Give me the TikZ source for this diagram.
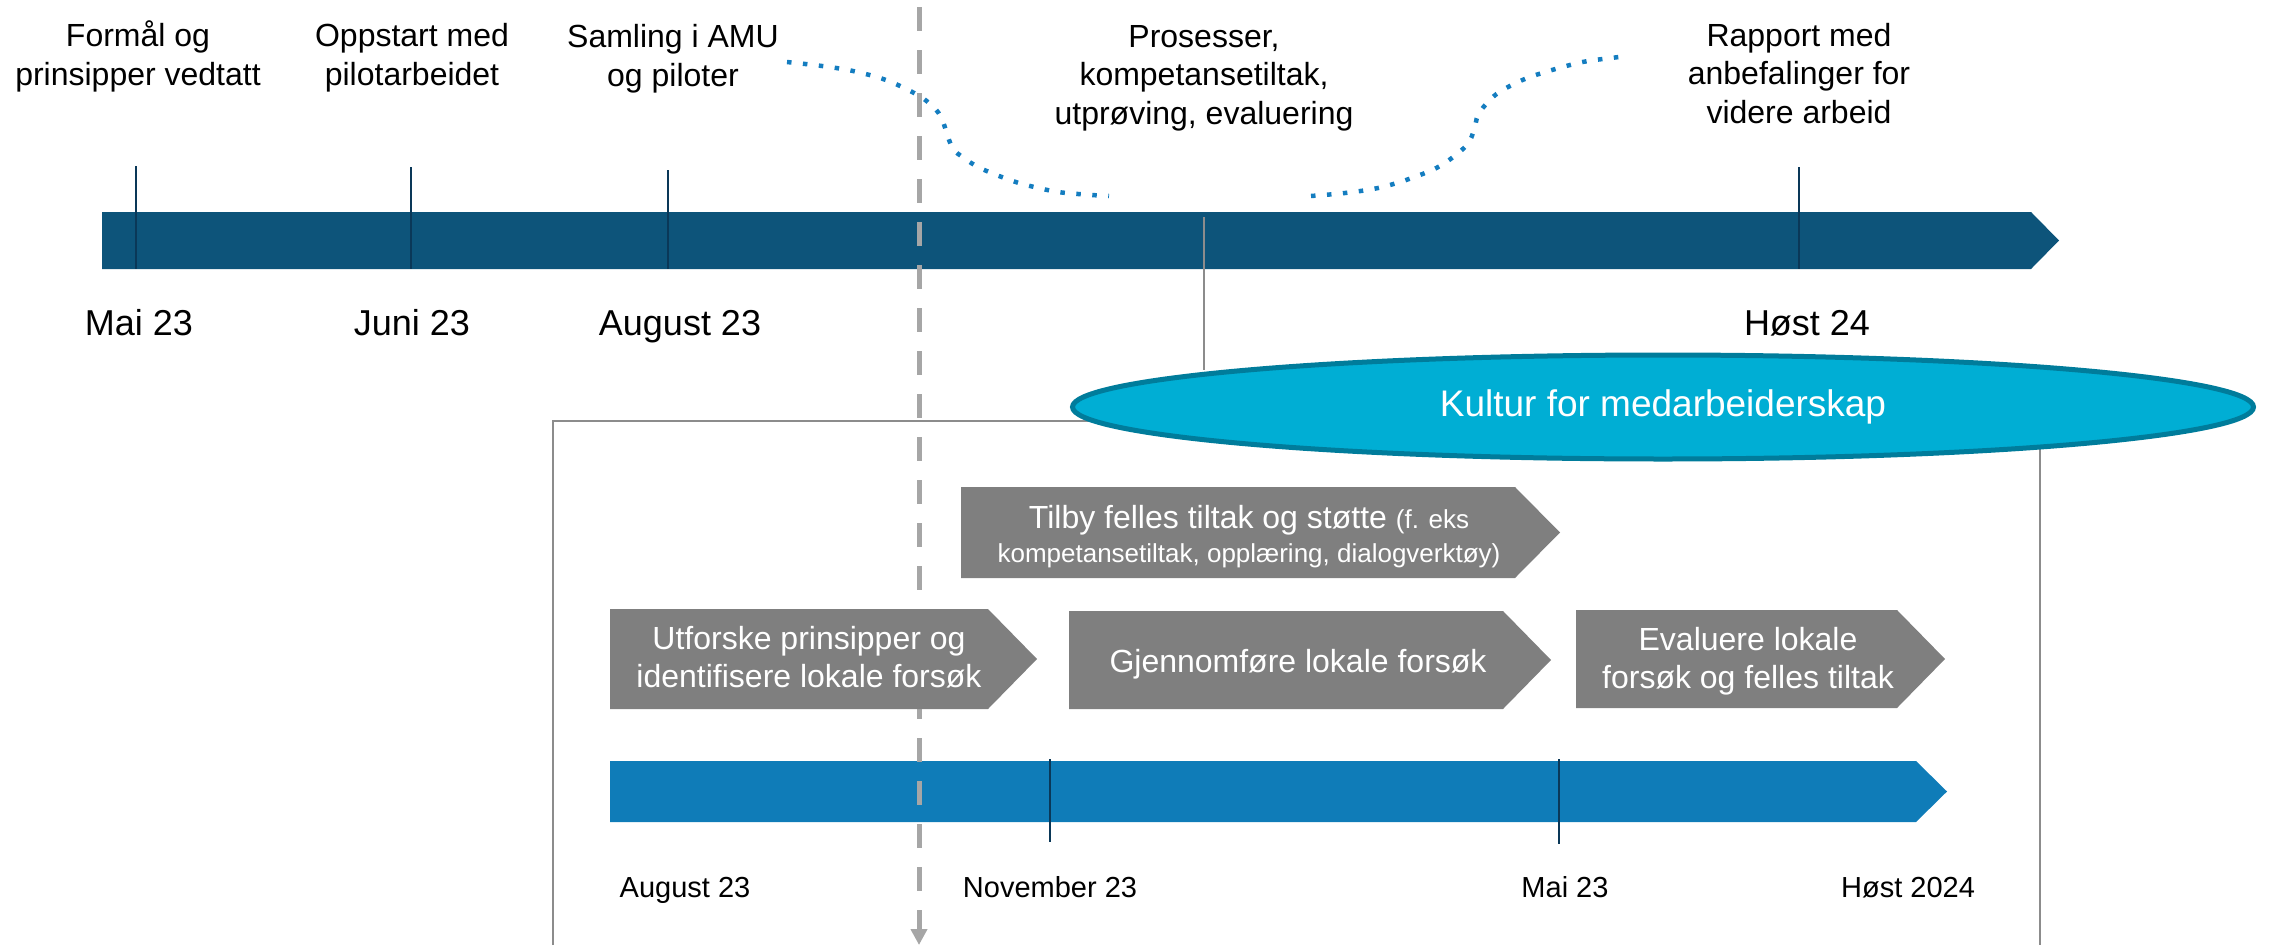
\documentclass[tikz,border=0pt]{standalone}
\usepackage{fontspec}
\setmainfont{Liberation Sans}
\usetikzlibrary{shapes.geometric,arrows.meta}
\definecolor{topbar}{RGB}{13,84,122}
\definecolor{botbar}{RGB}{15,124,184}
\definecolor{tick}{RGB}{10,56,88}
\definecolor{chev}{RGB}{127,127,127}
\definecolor{ellfill}{RGB}{0,174,212}
\definecolor{elldraw}{RGB}{0,124,155}
\definecolor{dotblue}{RGB}{20,125,192}
\definecolor{dashgray}{RGB}{166,166,166}
\definecolor{framegray}{RGB}{140,140,140}
\begin{document}
\begin{tikzpicture}[x=1pt,y=-1pt,
  lbl/.style={font=\fontsize{32}{38.4}\selectfont, align=center, inner sep=0, anchor=base},
  bigdate/.style={font=\fontsize{36}{43}\selectfont, inner sep=0, anchor=base},
  smalldate/.style={font=\fontsize{29}{35}\selectfont, inner sep=0, anchor=base},
  chtxt/.style={font=\fontsize{32}{37.5}\selectfont, align=center, text=white, inner sep=0, anchor=base},
  tickline/.style={draw=tick, line width=2pt},
  frameline/.style={draw=framegray, line width=2pt},
  dotline/.style={draw=dotblue, line width=4.5pt, dash pattern=on 4.5pt off 11.5pt},
  chevshape/.style={fill=chev}
]
\useasboundingbox (0,0) rectangle (2270,945);

% frame lines
\draw[frameline] (553,945) -- (553,421) -- (1150,421);
\draw[frameline] (2040,440) -- (2040,945);

% top bar
\fill[topbar] (102,212) -- (2031,212) -- (2059,240.5) -- (2031,269) -- (102,269) -- cycle;
\coordinate (t1a) at (136,166); \coordinate (t1b) at (136,269);
\coordinate (t2a) at (411,167); \coordinate (t2b) at (411,269);
\coordinate (t3a) at (668,170); \coordinate (t3b) at (668,269);
\coordinate (t4a) at (1799,167); \coordinate (t4b) at (1799,269);
\draw[tickline] (t1a) -- (t1b);
\draw[tickline] (t2a) -- (t2b);
\draw[tickline] (t3a) -- (t3b);
\draw[tickline] (t4a) -- (t4b);
\coordinate (gt) at (1204,217);
\coordinate (gb) at (1204,370);
\draw[draw=framegray, line width=2pt] (gt) -- (gb);

% bottom bar
\fill[botbar] (610,761) -- (1916,761) -- (1947,791.5) -- (1916,822) -- (610,822) -- cycle;
\coordinate (b1a) at (1050,759); \coordinate (b1b) at (1050,842);
\coordinate (b2a) at (1559,759); \coordinate (b2b) at (1559,844);
\draw[tickline] (b1a) -- (b1b);
\draw[tickline] (b2a) -- (b2b);

% dashed today line
\coordinate (dtop) at (919,7);
\coordinate (dbot) at (919,945);
\draw[draw=dashgray, line width=5pt, dash pattern=on 24pt off 19pt,
  -{Triangle[width=16pt,length=16pt]}] (dtop) -- (dbot);

% chevrons
\fill[chevshape] (961,487) -- (1515,487) -- (1560,532.5) -- (1515,578) -- (961,578) -- cycle;
\fill[chevshape] (610,609) -- (988,609) -- (1037,659) -- (988,709) -- (610,709) -- cycle;
\fill[chevshape] (1069,611) -- (1503,611) -- (1551,660) -- (1503,709) -- (1069,709) -- cycle;
\fill[chevshape] (1576,610) -- (1897,610) -- (1945,659) -- (1897,708) -- (1576,708) -- cycle;

\node[chtxt] (c1) at (1249,562) {Tilby felles tiltak og støtte {\fontsize{26}{31}\selectfont (f. eks}\\[-4pt]{\fontsize{26}{31}\selectfont kompetansetiltak, opplæring, dialogverktøy)}};
\node[chtxt] (c2) at (809,687) {Utforske prinsipper og\\identifisere lokale forsøk};
\node[chtxt] (c3) at (1298,672) {Gjennomføre lokale forsøk};
\node[chtxt] (c4) at (1748,688) {Evaluere lokale\\forsøk og felles tiltak};

% ellipse
\node[ellipse, fill=ellfill, draw=elldraw, line width=5pt, minimum width=1181pt, minimum height=104pt,
  inner sep=0, text=white, font=\fontsize{37}{44}\selectfont] (kultur) at (1663,407) {Kultur for medarbeiderskap};

% dotted curves
\draw[dotline] plot[smooth, tension=0.55] coordinates {(787,62) (822,66) (853,71) (886,80) (916,94) (930,104) (941,117) (952,147) (964,158) (978,167) (994,174) (1010,180) (1026,185) (1058,192) (1092,195) (1109,196)};
\draw[dotline] plot[smooth, tension=0.55] coordinates {(1311,196) (1345,193) (1378,188) (1409,179) (1440,166) (1466,146) (1474,130) (1478,115) (1488,102) (1501,91) (1530,77) (1578,63) (1611,58) (1629,56)};

% top labels (anchor = baseline of last line)
\node[lbl] (l1) at (138,85) {Formål og\\prinsipper vedtatt};
\node[lbl] (l2) at (412,85) {Oppstart med\\pilotarbeidet};
\node[lbl] (l3) at (673,86) {Samling i AMU\\og piloter};
\node[lbl] (l4) at (1204,124) {Prosesser,\\kompetansetiltak,\\utprøving, evaluering};
\node[lbl] (l5) at (1799,123) {Rapport med\\anbefalinger for\\videre arbeid};

% top dates
\node[bigdate] (d1) at (139,335) {Mai 23};
\node[bigdate] (d2) at (412,335) {Juni 23};
\node[bigdate] (d3) at (680,335) {August 23};
\node[bigdate] (d4) at (1807,335) {Høst 24};

% bottom dates
\node[smalldate] (s1) at (685,897) {August 23};
\node[smalldate] (s2) at (1050,897) {November 23};
\node[smalldate] (s3) at (1565,897) {Mai 23};
\node[smalldate] (s4) at (1908,897) {Høst 2024};
\end{tikzpicture}
\end{document}
